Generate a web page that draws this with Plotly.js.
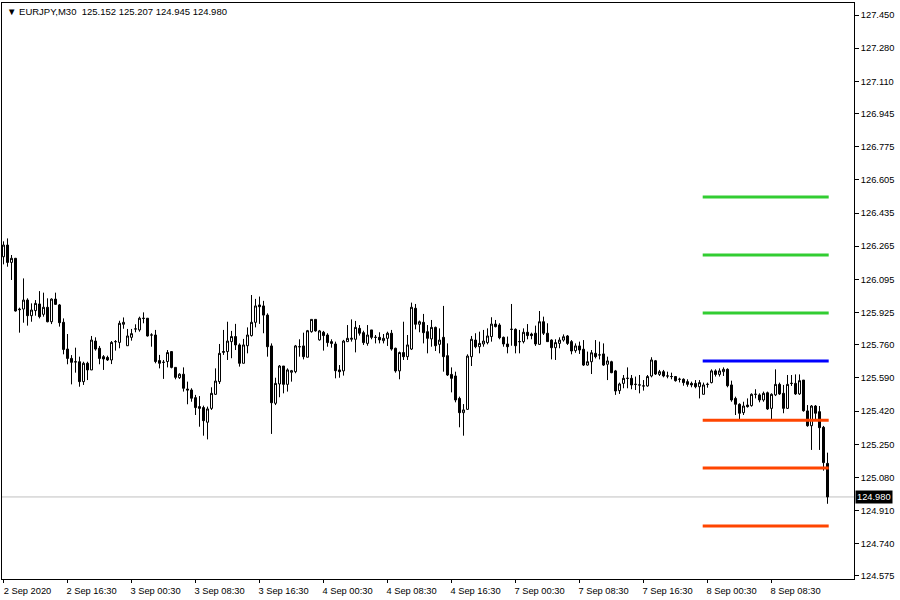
<!DOCTYPE html>
<html><head><meta charset="utf-8">
<script src="https://cdn.plot.ly/plotly-3.0.1.min.js"></script>
<style>html,body{margin:0;padding:0;background:#fff}#chart{width:900px;height:600px}</style>
</head><body><div id="chart"></div>
<script>
const symbolTitle = "\u25BC EURJPY,M30  125.152 125.207 124.945 124.980";

const openP = [126.211,126.271,126.182,126.203,125.943,125.943,125.989,125.909,125.935,125.969,
125.916,125.952,125.878,125.994,125.964,125.875,125.738,125.690,125.673,125.673,
125.571,125.665,125.631,125.779,125.742,125.699,125.695,125.682,125.776,125.772,
125.865,125.755,125.798,125.841,125.836,125.896,125.896,125.810,125.810,125.679,
125.670,125.674,125.725,125.644,125.591,125.609,125.533,125.528,125.489,125.443,
125.438,125.363,125.434,125.506,125.571,125.721,125.725,125.776,125.802,125.759,
125.665,125.755,125.807,125.875,125.964,125.959,125.912,125.754,125.460,125.559,
125.651,125.557,125.619,125.622,125.750,125.754,125.696,125.827,125.890,125.785,
125.824,125.810,125.776,125.764,125.631,125.626,125.776,125.788,125.788,125.844,
125.822,125.767,125.836,125.798,125.798,125.781,125.793,125.819,125.742,125.626,
125.720,125.699,125.738,125.947,125.865,125.875,125.827,125.790,125.849,125.762,
125.798,125.704,125.608,125.600,125.485,125.412,125.429,125.699,125.784,125.750,
125.764,125.771,125.802,125.866,125.861,125.798,125.764,125.839,125.839,125.776,
125.776,125.824,125.815,125.819,125.762,125.878,125.819,125.784,125.745,125.767,
125.784,125.805,125.776,125.730,125.754,125.737,125.656,125.673,125.716,125.708,
125.713,125.660,125.673,125.626,125.525,125.562,125.588,125.588,125.557,125.554,
125.549,125.549,125.600,125.678,125.608,125.622,125.600,125.597,125.597,125.583,
125.583,125.571,125.562,125.562,125.545,125.506,125.557,125.566,125.626,125.608,
125.622,125.634,125.554,125.485,125.455,125.412,125.451,125.448,125.506,125.503,
125.477,125.514,125.434,125.503,125.557,125.511,125.434,125.562,125.562,125.508,
125.579,125.421,125.345,125.446,125.417,125.337,125.152];

const highP = [126.290,126.305,126.220,126.205,125.950,126.100,125.998,125.972,125.989,126.035,
126.027,125.998,125.998,126.027,125.969,125.895,125.815,125.707,125.745,125.699,
125.673,125.673,125.805,125.798,125.754,125.707,125.704,125.779,125.784,125.883,
125.900,125.841,125.841,125.865,125.904,125.926,125.897,125.819,125.836,125.708,
125.682,125.733,125.728,125.644,125.614,125.644,125.571,125.537,125.503,125.497,
125.448,125.443,125.542,125.639,125.764,125.836,125.878,125.831,125.867,125.767,
125.790,125.849,126.015,125.995,126.007,125.985,125.921,125.767,125.591,125.656,
125.651,125.639,125.631,125.759,125.788,125.822,125.836,125.890,125.890,125.836,
125.831,125.819,125.788,125.776,125.656,125.785,125.861,125.890,125.882,125.861,
125.832,125.861,125.836,125.810,125.824,125.815,125.827,125.836,125.745,125.725,
125.878,125.810,125.976,125.969,125.884,125.918,125.861,125.887,125.853,125.844,
125.959,125.767,125.644,125.622,125.494,125.456,125.711,125.805,125.819,125.827,
125.836,125.844,125.901,125.887,125.870,125.802,125.802,125.969,125.844,125.836,
125.844,125.866,125.822,125.858,125.933,125.904,125.870,125.788,125.788,125.798,
125.813,125.810,125.784,125.767,125.776,125.784,125.725,125.733,125.784,125.776,
125.767,125.699,125.678,125.631,125.566,125.605,125.644,125.605,125.597,125.605,
125.579,125.605,125.696,125.682,125.631,125.631,125.622,125.617,125.600,125.591,
125.588,125.583,125.571,125.579,125.579,125.566,125.566,125.634,125.634,125.639,
125.644,125.639,125.576,125.494,125.460,125.468,125.485,125.511,125.532,125.511,
125.520,125.520,125.511,125.634,125.566,125.554,125.605,125.605,125.608,125.608,
125.579,125.451,125.451,125.451,125.446,125.344,125.207];

const lowP = [126.172,126.160,126.092,125.930,125.822,125.873,125.858,125.878,125.909,125.895,
125.904,125.875,125.866,125.964,125.853,125.711,125.660,125.557,125.617,125.545,
125.554,125.579,125.630,125.730,125.660,125.631,125.677,125.661,125.730,125.742,
125.842,125.755,125.781,125.824,125.827,125.870,125.802,125.750,125.665,125.639,
125.585,125.644,125.639,125.583,125.585,125.520,125.455,125.468,125.400,125.340,
125.294,125.275,125.426,125.503,125.559,125.708,125.682,125.691,125.733,125.648,
125.665,125.716,125.802,125.849,125.867,125.819,125.699,125.303,125.451,125.491,
125.511,125.520,125.571,125.614,125.699,125.685,125.696,125.822,125.827,125.781,
125.730,125.750,125.745,125.588,125.591,125.602,125.776,125.776,125.721,125.807,
125.759,125.755,125.788,125.767,125.767,125.767,125.754,125.730,125.617,125.583,
125.682,125.682,125.733,125.839,125.824,125.767,125.716,125.750,125.728,125.716,
125.622,125.600,125.516,125.465,125.337,125.294,125.426,125.651,125.742,125.716,
125.750,125.762,125.776,125.849,125.788,125.750,125.716,125.755,125.716,125.716,
125.767,125.788,125.788,125.754,125.759,125.810,125.776,125.685,125.682,125.742,
125.776,125.759,125.711,125.719,125.713,125.651,125.653,125.610,125.690,125.685,
125.651,125.579,125.614,125.503,125.508,125.537,125.537,125.532,125.528,125.511,
125.525,125.545,125.593,125.605,125.600,125.593,125.588,125.583,125.571,125.567,
125.550,125.545,125.542,125.537,125.485,125.506,125.540,125.562,125.597,125.597,
125.600,125.542,125.468,125.400,125.378,125.400,125.438,125.443,125.485,125.465,
125.468,125.426,125.378,125.497,125.503,125.409,125.431,125.549,125.503,125.503,
125.417,125.340,125.221,125.374,125.221,125.115,124.945];

const closeP = [126.271,126.182,126.203,125.933,125.940,125.989,125.909,125.938,125.972,125.904,
125.952,125.878,125.994,125.967,125.873,125.736,125.690,125.670,125.672,125.571,
125.665,125.631,125.784,125.738,125.690,125.687,125.682,125.772,125.776,125.870,
125.875,125.805,125.817,125.841,125.896,125.895,125.805,125.810,125.674,125.665,
125.670,125.720,125.644,125.593,125.609,125.537,125.528,125.486,125.438,125.434,
125.371,125.431,125.511,125.574,125.716,125.725,125.779,125.802,125.759,125.665,
125.759,125.810,125.875,125.959,125.955,125.912,125.750,125.463,125.562,125.651,
125.557,125.631,125.627,125.754,125.750,125.699,125.832,125.890,125.831,125.831,
125.807,125.771,125.767,125.627,125.622,125.779,125.793,125.793,125.849,125.819,
125.771,125.810,125.798,125.798,125.785,125.793,125.819,125.738,125.626,125.720,
125.699,125.759,125.952,125.865,125.878,125.822,125.793,125.849,125.755,125.784,
125.699,125.605,125.588,125.477,125.412,125.426,125.702,125.788,125.750,125.767,
125.779,125.805,125.866,125.853,125.796,125.764,125.750,125.839,125.755,125.776,
125.824,125.807,125.807,125.764,125.878,125.819,125.776,125.745,125.771,125.784,
125.801,125.767,125.728,125.754,125.733,125.656,125.673,125.719,125.699,125.708,
125.656,125.677,125.617,125.523,125.559,125.588,125.588,125.554,125.557,125.554,
125.549,125.597,125.682,125.610,125.622,125.600,125.600,125.597,125.576,125.583,
125.566,125.557,125.554,125.545,125.566,125.554,125.557,125.626,125.608,125.626,
125.634,125.550,125.477,125.455,125.409,125.446,125.443,125.506,125.506,125.477,
125.511,125.431,125.506,125.557,125.508,125.434,125.557,125.562,125.508,125.576,
125.422,125.345,125.446,125.409,125.335,125.156,124.980];

const xTickLabels = ["2 Sep 2020","2 Sep 16:30","3 Sep 00:30","3 Sep 08:30","3 Sep 16:30",
  "4 Sep 00:30","4 Sep 08:30","4 Sep 16:30","7 Sep 00:30","7 Sep 08:30","7 Sep 16:30",
  "8 Sep 00:30","8 Sep 08:30"];
const yTickLabels = ["127.450","127.280","127.110","126.945","126.775","126.605","126.435",
  "126.265","126.095","125.925","125.760","125.590","125.420","125.250","125.080","124.910",
  "124.740","124.575"];

const greenLevels = [126.517, 126.220, 125.923];
const blueLevels = [125.677];
const redLevels = [125.373, 125.128, 124.831];
const currentPrice = 124.980;

const barsPerLabel = 16;
const levelStartBar = 174.8, levelEndBar = 206.3;

const bars = openP.map((_, i) => i);
const FONT = "Liberation Sans, Arial, sans-serif";

const traces = [{
  type: 'candlestick', x: bars, open: openP, high: highP, low: lowP, close: closeP,
  increasing: {line: {color: '#000000', width: 1}, fillcolor: '#ffffff'},
  decreasing: {line: {color: '#000000', width: 1}, fillcolor: '#000000'},
  whiskerwidth: 0, hoverinfo: 'none', showlegend: false
}];
function addLevels(levels, color) {
  levels.forEach(v => traces.push({
    type: 'scatter', mode: 'lines', x: [levelStartBar, levelEndBar], y: [v, v],
    line: {color: color, width: 3}, hoverinfo: 'none', showlegend: false
  }));
}
addLevels(greenLevels, '#32cd32');
addLevels(blueLevels, '#0000ff');
addLevels(redLevels, '#ff4500');

const layout = {
  width: 900, height: 600,
  margin: {l: 2, r: 46, t: 3, b: 21, pad: 0},
  paper_bgcolor: '#ffffff', plot_bgcolor: '#ffffff',
  font: {family: FONT, size: 9.3, color: '#000000'},
  showlegend: false,
  boxgap: 0.5, boxgroupgap: 0,
  xaxis: {
    range: [-0.375, 212.625], fixedrange: true,
    rangeslider: {visible: false},
    showgrid: false, zeroline: false,
    showline: true, mirror: true, linecolor: '#000000', linewidth: 1,
    ticks: 'outside', ticklen: 3, tickcolor: '#000000', tickwidth: 1,
    tickmode: 'array',
    tickvals: xTickLabels.map((_, k) => k * barsPerLabel),
    ticktext: xTickLabels,
    ticklabelshift: 24,
    tickfont: {family: FONT, size: 9.3, color: '#000000'}
  },
  yaxis: {
    range: [124.5595, 127.5115], fixedrange: true, side: 'right',
    showgrid: false, zeroline: false,
    showline: true, mirror: true, linecolor: '#000000', linewidth: 1,
    ticks: 'outside', ticklen: 4, tickcolor: '#000000', tickwidth: 1,
    tickmode: 'array',
    tickvals: yTickLabels.map(Number),
    ticktext: yTickLabels,
    tickfont: {family: FONT, size: 9.3, color: '#000000'}
  },
  shapes: [{
    type: 'line', xref: 'paper', x0: 0, x1: 1, yref: 'y', y0: currentPrice, y1: currentPrice,
    line: {color: '#c0c0c0', width: 1}, layer: 'below'
  }],
  annotations: [{
    xref: 'paper', yref: 'paper', x: 0, y: 1, xanchor: 'left', yanchor: 'top',
    xshift: 3, yshift: -1, showarrow: false, text: symbolTitle,
    font: {family: FONT, size: 9.5, color: '#000000'}
  }, {
    xref: 'paper', yref: 'y', x: 1, y: currentPrice, xanchor: 'left', yanchor: 'middle',
    xshift: 1, showarrow: false, text: currentPrice.toFixed(3),
    bgcolor: '#000000', borderpad: 1,
    font: {family: FONT, size: 9.3, color: '#ffffff'}
  }]
};

Plotly.newPlot('chart', traces, layout, {staticPlot: true, displayModeBar: false});
</script>
</body></html>
